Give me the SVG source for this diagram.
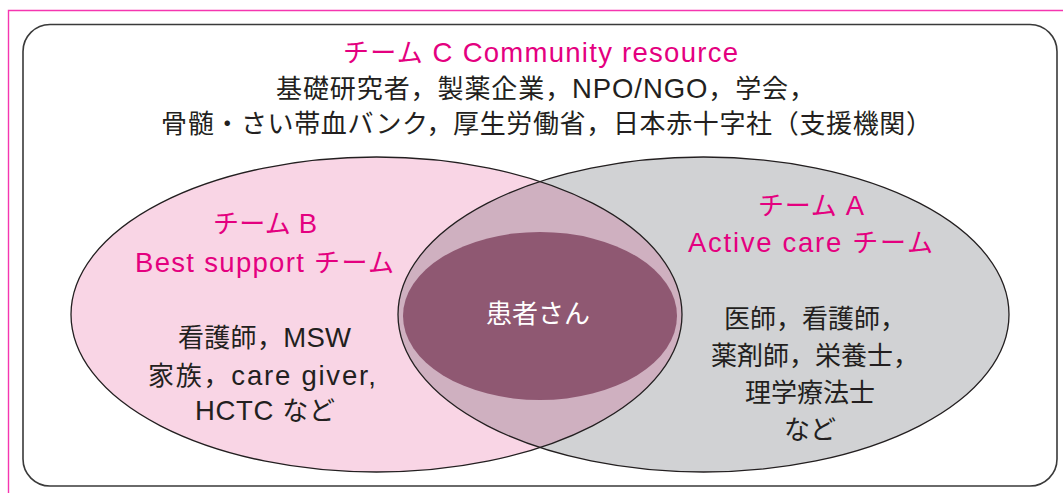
<svg xmlns="http://www.w3.org/2000/svg" width="1063" height="493" viewBox="0 0 1063 493">
  <style>
    text { font-family: "Liberation Sans", "Noto Sans CJK JP", sans-serif; font-size: 26px; }
    .lat { font-size: 27.5px; }
    .pink { fill: #e4007f; }
    .dark { fill: #231f20; }
    .white { fill: #ffffff; }
    .outline { fill: none; stroke: #231f20; stroke-width: 1.3; }
  </style>
  <defs>
    <clipPath id="clipLeft">
      <ellipse cx="376.5" cy="314.5" rx="305.5" ry="157.5"/>
    </clipPath>
  </defs>
  <rect width="1063" height="493" fill="#ffffff"/>
  <g id="frame">
    <path d="M8.5 493 V10.5 H1063" fill="none" stroke="#f536b0" stroke-width="1.4"/>
  </g>
  <g id="team-c">
    <rect x="23" y="24.5" width="1034" height="461.5" rx="27" ry="27" fill="#ffffff" stroke="#3a3a3a" stroke-width="1.6"/>
    <text class="pink" x="343" y="62" textLength="395" lengthAdjust="spacing">チーム <tspan class="lat">C Community resource</tspan></text>
    <text class="dark" x="276" y="98" textLength="539" lengthAdjust="spacing">基礎研究者，製薬企業，<tspan class="lat">NPO/NGO</tspan>，学会，</text>
    <text class="dark" x="161" y="133" textLength="771" lengthAdjust="spacing">骨髄・さい帯血バンク，厚生労働省，日本赤十字社（支援機関）</text>
  </g>
  <g id="team-b">
    <ellipse cx="376.5" cy="314.5" rx="305.5" ry="157.5" fill="#f9d5e5"/>
  </g>
  <g id="team-a">
    <ellipse cx="703.5" cy="314.5" rx="305.5" ry="157.5" fill="#d1d2d4"/>
  </g>
  <g id="overlap">
    <ellipse cx="703.5" cy="314.5" rx="305.5" ry="157.5" fill="#cfb0c0" clip-path="url(#clipLeft)"/>
  </g>
  <g id="patient">
    <ellipse cx="540" cy="316" rx="137" ry="84" fill="#8f5872"/>
    <text class="white" x="538" y="323" text-anchor="middle">患者さん</text>
  </g>
  <g id="outlines">
    <ellipse class="outline" cx="376.5" cy="314.5" rx="305.5" ry="157.5"/>
    <ellipse class="outline" cx="703.5" cy="314.5" rx="305.5" ry="157.5"/>
  </g>
  <g id="team-b-labels">
    <text class="pink" x="213" y="233" textLength="104" lengthAdjust="spacing">チーム <tspan class="lat">B</tspan></text>
    <text class="pink" x="135" y="272" textLength="259" lengthAdjust="spacing"><tspan class="lat">Best support </tspan>チーム</text>
    <text class="dark" x="178" y="347" textLength="173" lengthAdjust="spacing">看護師，<tspan class="lat">MSW</tspan></text>
    <text class="dark" x="148" y="385" textLength="228" lengthAdjust="spacing">家族，<tspan class="lat">care giver,</tspan></text>
    <text class="dark" x="195" y="420" textLength="140" lengthAdjust="spacing"><tspan class="lat">HCTC </tspan>など</text>
  </g>
  <g id="team-a-labels">
    <text class="pink" x="758" y="215" textLength="106" lengthAdjust="spacing">チーム <tspan class="lat">A</tspan></text>
    <text class="pink" x="688" y="252" textLength="245" lengthAdjust="spacing"><tspan class="lat">Active care </tspan>チーム</text>
    <text class="dark" x="724" y="328">医師，看護師，</text>
    <text class="dark" x="711" y="365">薬剤師，栄養士，</text>
    <text class="dark" x="745" y="402">理学療法士</text>
    <text class="dark" x="784" y="439">など</text>
  </g>
  <g id="connectors"/>
</svg>
